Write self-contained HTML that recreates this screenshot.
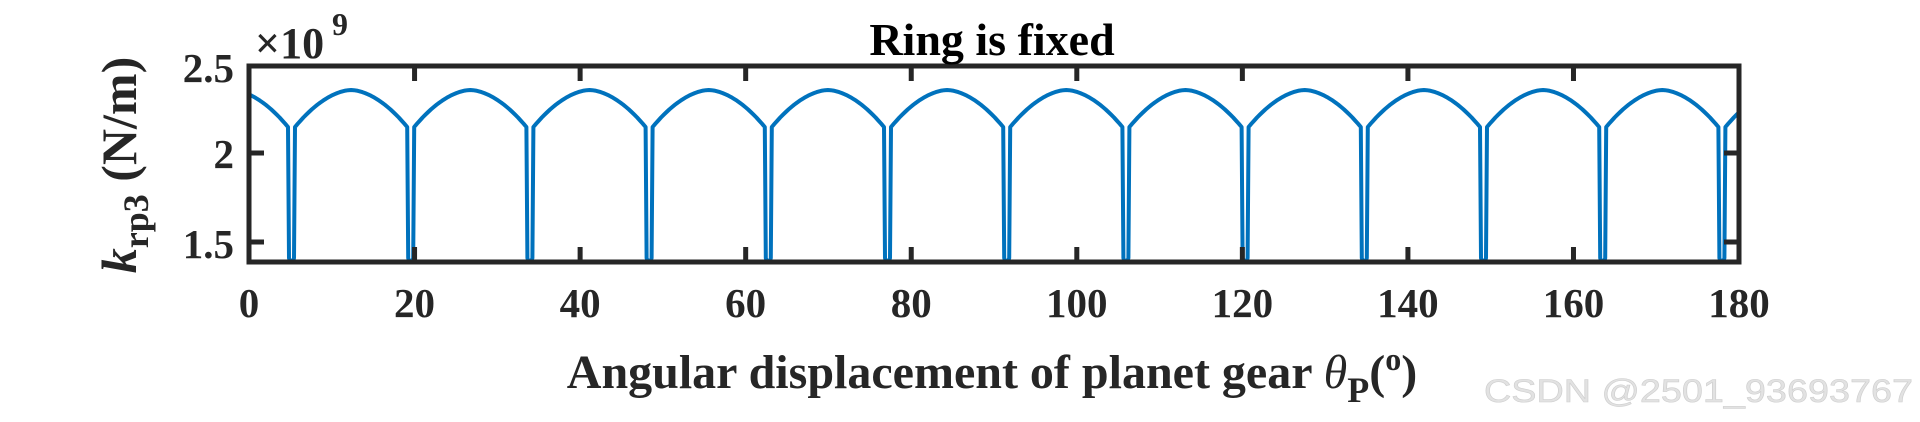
<!DOCTYPE html>
<html><head><meta charset="utf-8"><style>
html,body{margin:0;padding:0;background:#fff;}
svg{display:block;}
</style></head><body>
<svg id="s" width="1920" height="422" viewBox="0 0 1920 422" xmlns="http://www.w3.org/2000/svg">
<defs><clipPath id="c"><rect x="249" y="66" width="1490" height="196"/></clipPath></defs>
<g id="curve" clip-path="url(#c)"><path id="p" d="" fill="none" stroke="#0072BD" stroke-width="4" stroke-linejoin="round"/></g>
<rect x="249" y="66" width="1490" height="196" fill="none" stroke="#262626" stroke-width="5"/>
<g id="ticks" stroke="#262626" stroke-width="5"></g>
<g font-family="'Liberation Serif',serif" font-weight="bold" font-size="41" fill="#262626" id="xl" text-anchor="middle"></g>
<g font-family="'Liberation Serif',serif" font-weight="bold" font-size="41" fill="#262626" text-anchor="end">
<text x="234" y="82">2.5</text><text x="234" y="168">2</text><text x="234" y="258">1.5</text>
</g>
<text x="255" y="58" font-family="'Liberation Serif',serif" font-weight="bold" font-size="44" fill="#262626">×10</text>
<text x="332" y="35" font-family="'Liberation Serif',serif" font-weight="bold" font-size="32" fill="#262626">9</text>
<text x="992" y="55" text-anchor="middle" font-family="'Liberation Serif',serif" font-weight="bold" font-size="46" fill="#000">Ring is fixed</text>
<text transform="translate(136,165) rotate(-90)" text-anchor="middle" font-family="'Liberation Serif',serif" font-weight="bold" font-size="50" fill="#262626"><tspan font-style="italic">k</tspan><tspan font-size="36" dy="12">rp3</tspan><tspan dy="-12"> (N/m)</tspan></text>
<text x="992" y="388" text-anchor="middle" font-family="'Liberation Serif',serif" font-weight="bold" font-size="48" fill="#262626">Angular displacement of planet gear <tspan font-style="italic" font-weight="normal">θ</tspan><tspan font-size="36" dy="14">P</tspan><tspan dy="-14">(</tspan><tspan font-size="32" dy="-18">o</tspan><tspan dy="18">)</tspan></text>
<text x="1484" y="402" textLength="429" lengthAdjust="spacingAndGlyphs" font-family="'Liberation Sans',sans-serif" font-size="32" fill="#e2e2e2" stroke="#cfcfcf" stroke-width="0.6">CSDN @2501_93693767</text>
</svg>
<script>
(function(){
var NS="http://www.w3.org/2000/svg";
var x0=249,dx=165.56;
var t=document.getElementById("ticks"),xl=document.getElementById("xl");
for(var i=0;i<=9;i++){var x=x0+i*dx;
 if(i>0&&i<9){var l=document.createElementNS(NS,"line");l.setAttribute("x1",x);l.setAttribute("x2",x);l.setAttribute("y1",66);l.setAttribute("y2",81);t.appendChild(l);
 l=document.createElementNS(NS,"line");l.setAttribute("x1",x);l.setAttribute("x2",x);l.setAttribute("y1",262);l.setAttribute("y2",247);t.appendChild(l);}
 var tx=document.createElementNS(NS,"text");tx.setAttribute("x",x);tx.setAttribute("y",317);tx.textContent=String(i*20);xl.appendChild(tx);}
[153,242].forEach(function(y){
 var l=document.createElementNS(NS,"line");l.setAttribute("x1",249);l.setAttribute("x2",264);l.setAttribute("y1",y);l.setAttribute("y2",y);t.appendChild(l);
 l=document.createElementNS(NS,"line");l.setAttribute("x1",1739);l.setAttribute("x2",1724);l.setAttribute("y1",y);l.setAttribute("y2",y);t.appendChild(l);});
var P=119.2,c0=291.5,d="";
for(var k=-1;k<=13;k++){
 var c=c0+k*P, a=c+3.5, b=c+P-3.5, m=(a+b)/2, h=(b-a)/2;
 if(k>-1){ d+=" L"+(c-2.5)+",258 L"+c+",266 L"+(c+2.5)+",258 L"+a+",127"; }
 for(var j=0;j<=40;j++){var x=a+(b-a)*j/40;var u=(x-m)/h;var y=90+37*(0.55*u*u+0.45*(Math.pow(Math.abs(u),1.6)));
  d+=(d===""?"M":" L")+x.toFixed(1)+","+y.toFixed(1);}
}
document.getElementById("p").setAttribute("d",d);
})();
</script>
</body></html>
